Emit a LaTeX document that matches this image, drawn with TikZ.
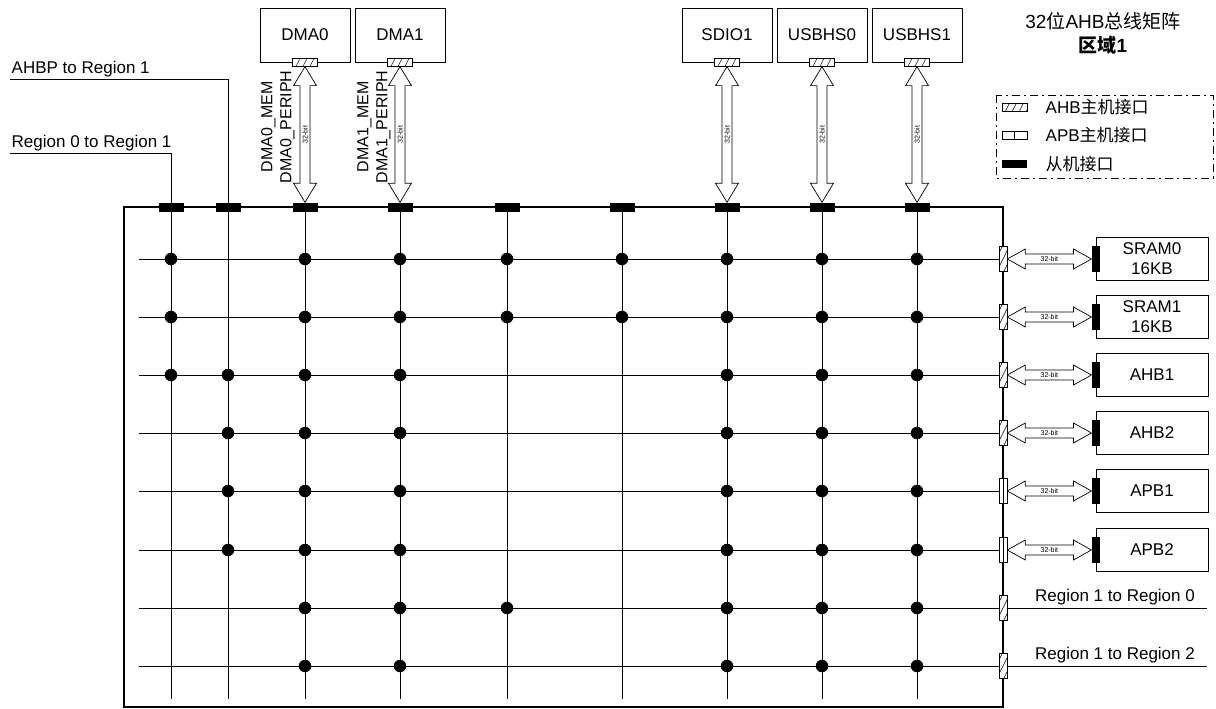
\documentclass[tikz,border=0pt]{standalone}
\usepackage{fontspec}
\setmainfont{Liberation Sans}
\newfontfamily\cjk{Noto Sans CJK SC}
\usetikzlibrary{calc}

% vertical 32-bit bus arrow between a master port (top) and a slave port (bottom)
\newcommand\busv[2]{%
  \draw[bus] let \p1=(#1.south), \p2=(#2.north) in
    (\x1,\y1) -- (\x1+11.5pt,\y1-19pt) -- (\x1+5pt,\y1-19pt) -- (\x1+5pt,\y2+19pt)
    -- (\x1+11.5pt,\y2+19pt) -- (\x1,\y2) -- (\x1-11.5pt,\y2+19pt) -- (\x1-5pt,\y2+19pt)
    -- (\x1-5pt,\y1-19pt) -- (\x1-11.5pt,\y1-19pt) -- cycle;
  \node[bitlbl,rotate=90] at ($(#1.south)!.5!(#2.north)$) {32-bit};}
% horizontal 32-bit bus arrow between a matrix port (left) and a slave port (right)
\newcommand\bush[2]{%
  \draw[bus] let \p1=(#1.east), \p2=(#2.west) in
    (\x1,\y1) -- (\x1+18pt,\y1+10pt) -- (\x1+18pt,\y1+5pt) -- (\x2-18pt,\y1+5pt)
    -- (\x2-18pt,\y1+10pt) -- (\x2,\y1) -- (\x2-18pt,\y1-10pt) -- (\x2-18pt,\y1-5pt)
    -- (\x1+18pt,\y1-5pt) -- (\x1+18pt,\y1-10pt) -- cycle;
  \node[bitlbl] at ($(#1.east)!.5!(#2.west)$) {32-bit};}

\begin{document}
\begin{tikzpicture}[x=1pt,y=-1pt,
  txt/.style={font=\fontsize{17}{20}\selectfont, inner sep=1.5pt},
  master/.style={draw, line width=0.7pt, minimum width=90pt, minimum height=54pt, inner sep=0pt, font=\fontsize{17}{20}\selectfont},
  slavebox/.style={draw, line width=0.7pt, minimum width=112pt, minimum height=43pt, inner sep=0pt, align=center, font=\fontsize{17}{20}\selectfont},
  sport/.style={fill=black, minimum width=25pt, minimum height=9pt, inner sep=0pt},
  sportv/.style={fill=black, minimum width=8pt, minimum height=26pt, inner sep=0pt},
  hatch/.style={draw, fill=white, line width=0.6pt, inner sep=0pt,
    path picture={\foreach \o in {-55,-48,...,15}
      \draw[line width=0.5pt] ([xshift=\o pt, yshift=-40pt]path picture bounding box.center) -- ++(40pt,80pt);}},
  hport/.style={hatch, minimum width=25pt, minimum height=8pt},
  hportv/.style={hatch, minimum width=8pt, minimum height=25pt},
  aport/.style={draw, fill=white, line width=0.6pt, inner sep=0pt,
    path picture={\draw[line width=0.6pt] (path picture bounding box.north) -- (path picture bounding box.south);}},
  aportv/.style={aport, minimum width=8pt, minimum height=25pt},
  aporth/.style={aport, minimum width=25pt, minimum height=8pt},
  dot/.style={circle, fill=black, minimum size=12.5pt, inner sep=0pt},
  grid/.style={line width=0.9pt},
  bus/.style={draw, fill=white, line width=0.7pt},
  bitlbl/.style={font=\fontsize{7}{8}\selectfont, inner sep=0pt},
]
\useasboundingbox (0,0) rectangle (1216,709);

% column and row reference points of the crossbar
\foreach \i/\x in {1/171,2/228,3/305,4/400,5/507,6/622,7/727,8/822,9/917}{
  \coordinate (c\i) at (\x,207);
  \coordinate (b\i) at (\x,699);
}
\foreach \j/\y in {1/259,2/317,3/375,4/433,5/491,6/550,7/608,8/666}{
  \coordinate (r\j) at (139,\y);
  \coordinate (e\j) at (1003,\y);
}

% inter-region inputs on the left
\node[txt, anchor=south west] (lab1) at (10,79) {AHBP to Region 1};
\node[txt, anchor=south west] (lab0) at (10,153) {Region 0 to Region 1};
\draw[grid] (lab1.south west) -- (lab1.south west -| b2) -- (b2);
\draw[grid] (lab0.south west) -- (lab0.south west -| b1) -- (b1);

% crossbar lines
\foreach \i in {3,...,9} {\draw[grid] (c\i) -- (b\i);}
\foreach \j in {1,...,8} {\draw[grid] (r\j) -- (e\j);}

% matrix outline
\draw[line width=2.2pt] (124,207) rectangle (1003,707);

% slave ports along the top edge
\foreach \i in {1,...,9} {\node[sport] (sp\i) at (c\i) {};}

% connection points
\foreach \j/\cols in {1/{1,3,4,5,6,7,8,9},2/{1,3,4,5,6,7,8,9},3/{1,2,3,4,7,8,9},
    4/{2,3,4,7,8,9},5/{2,3,4,7,8,9},6/{2,3,4,7,8,9},7/{3,4,5,7,8,9},8/{3,4,7,8,9}}{
  \foreach \i in \cols {\node[dot] (d\j\i) at (c\i |- r\j) {};}
}

% bus masters
\node[master] (dma0) at (305,35) {DMA0};
\node[master] (dma1) at (400,35) {DMA1};
\node[master] (sdio1) at (727,35) {SDIO1};
\node[master] (usbhs0) at (822,35) {USBHS0};
\node[master] (usbhs1) at (917,35) {USBHS1};
\foreach \m in {dma0,dma1,sdio1,usbhs0,usbhs1} {\node[hport] (mp\m) at (\m.south) {};}
\busv{mpdma0}{sp3}
\busv{mpdma1}{sp4}
\busv{mpsdio1}{sp7}
\busv{mpusbhs0}{sp8}
\busv{mpusbhs1}{sp9}
\node[rotate=90, align=center, font=\fontsize{16}{19}\selectfont, inner sep=0pt] (dma0lbl) at (278,127) {DMA0\_MEM\\DMA0\_PERIPH};
\node[rotate=90, align=center, font=\fontsize{16}{19}\selectfont, inner sep=0pt] (dma1lbl) at (374,127) {DMA1\_MEM\\DMA1\_PERIPH};

% master ports on the right edge
\foreach \j in {1,2,3,4,7,8} {\node[hportv] (rp\j) at (e\j) {};}
\foreach \j in {5,6} {\node[aportv] (rp\j) at (e\j) {};}

% slaves
\node[slavebox] (sram0) at (1152,259) {SRAM0\\16KB};
\node[slavebox] (sram1) at (1152,317) {SRAM1\\16KB};
\node[slavebox] (ahb1) at (1152,375) {AHB1};
\node[slavebox] (ahb2) at (1152,433) {AHB2};
\node[slavebox] (apb1) at (1152,491) {APB1};
\node[slavebox] (apb2) at (1152,550) {APB2};
\foreach \s/\j in {sram0/1,sram1/2,ahb1/3,ahb2/4,apb1/5,apb2/6}{
  \node[sportv] (ss\j) at (\s.west) {};
}
\foreach \j in {1,...,6} {\bush{rp\j}{ss\j}}

% outgoing inter-region links
\coordinate (x7) at (1207,608);
\coordinate (x8) at (1207,666);
\draw[grid] (rp7.east) -- (x7);
\draw[grid] (rp8.east) -- (x8);
\node[txt, anchor=south] (out0) at (1115,607) {Region 1 to Region 0};
\node[txt, anchor=south] (out2) at (1115,665) {Region 1 to Region 2};

% title
\node[font=\fontsize{19}{22}\selectfont, inner sep=0pt] (title) at (1103,21) {32{\cjk 位}AHB{\cjk 总线矩阵}};
\node[font=\fontsize{19}{22}\selectfont\bfseries, inner sep=0pt] (title2) at (1103,45) {{\cjk\bfseries 区域}1};

% legend
\draw[line width=0.8pt, dash pattern=on 8pt off 4pt on 2pt off 4pt] (996,95) rectangle (1213,178);
\node[hport] (lg1) at (1014.5,107) {};
\node[aporth] (lg2) at (1014.5,135) {};
\node[sport, minimum height=8pt] (lg3) at (1014.5,164) {};
\node[txt, anchor=west] (lgt1) at (1044,107) {AHB{\cjk 主机接口}};
\node[txt, anchor=west] (lgt2) at (1044,135) {APB{\cjk 主机接口}};
\node[txt, anchor=west] (lgt3) at (1044,164) {{\cjk 从机接口}};
\end{tikzpicture}
\end{document}
